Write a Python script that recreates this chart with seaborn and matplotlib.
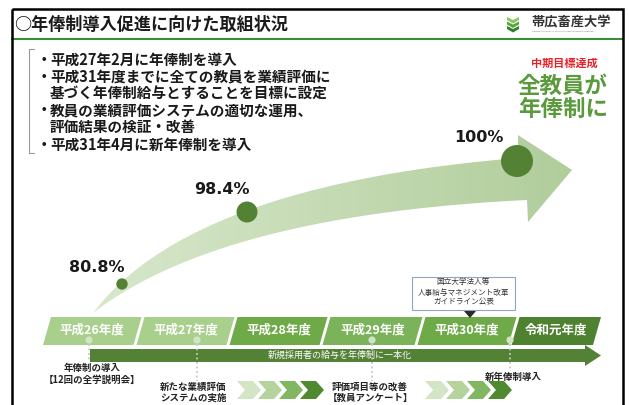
import numpy as np
import seaborn as sns
import matplotlib.pyplot as plt
from matplotlib.patches import Polygon, Rectangle, Circle
from matplotlib.colors import LinearSegmentedColormap

# data
years = ["平成26年度", "平成27年度", "平成28年度", "平成29年度", "平成30年度", "令和元年度"]
rate_labels = ["80.8%", "98.4%", "100%"]
rates = [80.8, 98.4, 100.0]
title = "○年俸制導入促進に向けた取組状況"
bullets = [
    ("・", "平成27年2月に年俸制を導入"),
    ("・", "平成31年度までに全ての教員を業績評価に"),
    ("", "基づく年俸制給与とすることを目標に設定"),
    ("・", "教員の業績評価システムの適切な運用、"),
    ("", "評価結果の検証・改善"),
    ("・", "平成31年4月に新年俸制を導入"),
]
goal_small = "中期目標達成"
goal_lines = ["全教員が", "年俸制に"]
arrow_text = "新規採用者の給与を年俸制に一本化"
events = ["年俸制の導入\n【12回の全学説明会】", "新たな業績評価\nシステムの実施",
          "評価項目等の改善\n【教員アンケート】", "新年俸制導入"]
notice = "国立大学法人等\n人事給与マネジメント改革\nガイドライン公表"
logo = "帯広畜産大学"
logo_sub = "Obihiro University of Agriculture and Veterinary Medicine"

sns.set_theme(style="white")
plt.rcParams["font.family"] = ["Noto Sans CJK JP", "DejaVu Sans"]

W, H = 629, 405
fig = plt.figure(figsize=(W / 100, H / 100), dpi=100)
ax = fig.add_axes([0, 0, 1, 1])

# frame + header
ax.add_patch(Rectangle((12, 9), 611, 430, fill=False, ec="black", lw=1.8, zorder=10))
ax.plot([12, 623], [39, 39], color="#3b8c3b", lw=1.5)
ax.text(14, 25, title, fontsize=12.3, fontweight="bold", color="#1a1a1a", va="center")

# logo
for k, c in enumerate(["#8cc75a", "#56a83c", "#2f7f2f"]):
    y = 17 + k * 4.5
    ax.add_patch(Polygon([(507, y), (513, y + 3), (519, y), (519, y + 3), (513, y + 6.5), (507, y + 3)],
                         closed=True, fc=c, ec="none"))
ax.text(531, 22, logo, fontsize=9.5, fontweight="bold", color="#333333", va="center")
ax.text(532, 31, logo_sub, fontsize=1.7, color="#777777", va="center")

# bracket + bullets
ax.plot([34, 29, 29, 34], [49, 49, 153, 153], color="#999999", lw=0.8)
bullet_y = [60, 77, 93, 110, 127, 145]
for (mark, txt), y in zip(bullets, bullet_y):
    if mark:
        ax.text(44, y, mark, fontsize=10.5, fontweight="bold", color="#1a1a1a", ha="center", va="center")
    ax.text(50, y, txt, fontsize=10.5, fontweight="bold", color="#1a1a1a", va="center")

# goal text
ax.text(564, 63, goal_small, fontsize=8, fontweight="bold", color="#e8202a", ha="center", va="center")
for line, y in zip(goal_lines, [86, 109]):
    ax.text(563, y, line, fontsize=16.2, fontweight="bold", color="#5b9a3c", ha="center", va="center")

# big curved arrow
def bez(p0, p1, p2, n=80):
    t = np.linspace(0, 1, n)[:, None]
    p0, p1, p2 = map(np.asarray, (p0, p1, p2))
    return (1 - t) ** 2 * p0 + 2 * t * (1 - t) * p1 + t ** 2 * p2

upper = bez((93, 313), (190, 185), (518, 158))
lower = bez((93, 313), (220, 215), (527, 200))
head = np.array([(528, 222), (572, 170), (518, 135)])
pts = np.vstack([lower, head, upper[::-1]])
band = Polygon(pts, closed=True, fc="none", ec="none")
ax.add_patch(band)
cmap = LinearSegmentedColormap.from_list("band", ["#d8e8cc", "#b1cd9b"])
im = ax.imshow(np.linspace(0, 1, 256)[None, :], extent=(90, 575, 320, 130),
               cmap=cmap, aspect="auto", zorder=1)
im.set_clip_path(band)

# rate points
dot_x = [122, 247, 517]
dot_y = [284, 212, 161]
dot_s = {"80.8%": 67, "98.4%": 228, "100%": 531}
sns.scatterplot(x=dot_x, y=dot_y, size=rate_labels, sizes=dot_s, color="#548235",
                linewidth=0, legend=False, ax=ax, zorder=3)
label_xy = [(97, 268), (222, 190), (479, 138)]
for lab, (x, y) in zip(rate_labels, label_xy):
    ax.text(x, y, lab, fontsize=11.5, fontweight="bold", family=["DejaVu Sans"],
            color="#1a1a1a", ha="center", va="center")

# timeline
bounds = [47, 139, 232, 325, 420, 514, 597]
seg_colors = ["#a9cf8c", "#a9cf8c", "#6eaa47", "#7ab35a", "#6eaa47", "#4e8231"]
y0, y1, sl, gap = 317, 345, 4, 1.5
for i, yr in enumerate(years):
    l = bounds[i] + (gap if i > 0 else 0)
    r = bounds[i + 1] - (gap if i < len(years) - 1 else 0)
    ax.add_patch(Polygon([(l - sl, y1), (l + sl, y0), (r + sl, y0), (r - sl, y1)],
                         closed=True, fc=seg_colors[i], ec="none", zorder=2))
    ax.text((l + r) / 2, 330, yr, fontsize=9, fontweight="bold", color="white",
            ha="center", va="center", zorder=3)

# long arrow
ax.add_patch(Polygon([(90, 349), (585, 349), (585, 345), (601, 355.5), (585, 366), (585, 362), (90, 362)],
                     closed=True, fc="#538135", ec="none", zorder=2))
ax.text(340, 355.5, arrow_text, fontsize=6.5, color="white", ha="center", va="center", zorder=3)

# event markers
mark_x = [89, 197, 372, 510]
mark_end = [360, 381, 381, 370]
for x, ye in zip(mark_x, mark_end):
    ax.plot([x, x], [344, ye], color="#c8c8c8", lw=1.3, ls=(0, (1, 1.5)), zorder=4)
    ax.add_patch(Circle((x, 340), 3.6, fc="#d3e3c6", ec="none", zorder=4))

ev_xy = [(92, 374), (193, 392.5), (370, 392.5), (513, 377)]
for txt, (x, y) in zip(events, ev_xy):
    ax.text(x, y, txt, fontsize=6.8, fontweight="bold", color="#222222", ha="center",
            va="center", linespacing=1.15, zorder=5)

# chevrons
chev_colors = ["#d4e5c6", "#b5d39d", "#80b760", "#4f8a30"]
for start in [237, 425]:
    for k, c in enumerate(chev_colors):
        x = start + k * 21
        ax.add_patch(Polygon([(x, 381), (x + 16, 381), (x + 24, 390), (x + 16, 399), (x, 399), (x + 8, 390)],
                             closed=True, fc=c, ec="none", zorder=3))

# notice box
ax.add_patch(Rectangle((412, 277), 103, 33, fc="white", ec="#8fa7bd", lw=0.8, zorder=5))
ax.text(463.5, 292.5, notice, fontsize=5.5, color="#333333", ha="center", va="center",
        linespacing=1.35, zorder=6)
ax.add_patch(Polygon([(464, 311), (476, 311), (470, 318)], closed=True, fc="#2b2b2b", ec="none", zorder=6))

ax.set_xlim(0, W)
ax.set_ylim(H, 0)
ax.axis("off")
fig.savefig("out.png", dpi=100)
